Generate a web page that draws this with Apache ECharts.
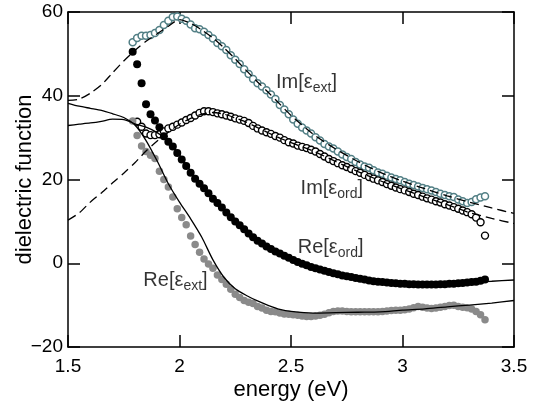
<!DOCTYPE html>
<html>
<head>
<meta charset="utf-8">
<script src="https://cdn.jsdelivr.net/npm/echarts@6/dist/echarts.min.js"></script>
<style>
html, body { margin: 0; padding: 0; background: #fff; }
#chart { width: 536px; height: 403px; background: #fff; }
</style>
</head>
<body>
<div id="chart"></div>
<script>
// Axis ticks
const xTicks = [1.5, 2, 2.5, 3, 3.5];
const yTicks = [-20, 0, 20, 40, 60];

// Measured photon energies (eV)
const energy = [
  1.79,1.81,1.83,1.85,1.87,1.89,1.91,1.93,1.95,1.97,
  1.99,2.01,2.03,2.05,2.07,2.09,2.11,2.13,2.15,2.17,
  2.19,2.21,2.23,2.25,2.27,2.29,2.31,2.33,2.35,2.37,
  2.39,2.41,2.43,2.45,2.47,2.49,2.51,2.53,2.55,2.57,
  2.59,2.61,2.63,2.65,2.67,2.69,2.71,2.73,2.75,2.77,
  2.79,2.81,2.83,2.85,2.87,2.89,2.91,2.93,2.95,2.97,
  2.99,3.01,3.03,3.05,3.07,3.09,3.11,3.13,3.15,3.17,
  3.19,3.21,3.23,3.25,3.27,3.29,3.31,3.33,3.35,3.37
];
// Im[eps_ext], measured
const imExt = [
  52.8,53.8,54.3,54.3,54.5,55.0,55.7,56.9,57.9,58.8,
  58.9,58.4,57.9,57.0,56.1,55.9,55.3,54.5,53.7,52.6,
  51.8,50.9,49.7,48.6,47.6,46.3,45.2,44.0,43.0,42.2,
  41.3,40.3,39.2,37.8,36.7,35.6,34.3,33.3,32.4,31.7,
  31.0,30.1,29.3,28.5,27.9,27.4,26.7,26.0,25.4,24.9,
  24.2,23.6,23.1,22.8,22.2,21.7,21.4,20.9,20.5,20.1,
  19.8,19.4,19.0,18.7,18.3,18.0,17.7,17.4,17.0,16.6,
  16.3,16.0,15.8,15.2,14.8,14.4,14.6,15.3,15.7,16.0
];
// Im[eps_ord], measured
const imOrd = [
  null,33.8,32.6,31.0,30.6,30.6,30.8,31.5,32.2,32.6,
  33.1,33.6,34.2,34.7,35.3,35.9,36.3,36.3,36.1,35.8,
  35.6,35.3,35.0,34.6,34.3,34.0,33.5,32.8,32.2,31.7,
  31.3,30.9,30.4,30.0,29.4,28.9,28.6,28.1,27.8,27.5,
  27.1,26.7,26.1,25.5,24.9,24.4,23.9,23.4,23.0,22.5,
  22.0,21.6,21.1,20.6,20.2,19.8,19.4,18.9,18.5,18.1,
  17.7,17.4,17.0,16.6,16.3,15.9,15.5,15.2,14.8,14.5,
  14.1,13.8,13.4,13.0,12.6,12.2,11.7,10.9,9.8,6.6
];
// Re[eps_ord], measured
const reOrd = [
  50.5,47.5,43.0,38.0,35.6,34.1,32.5,30.3,29.0,27.9,
  26.3,24.8,23.2,21.6,20.2,19.0,17.9,16.7,15.4,14.4,
  13.3,12.1,11.0,10.0,9.1,8.1,7.1,6.2,5.4,4.7,
  4.0,3.4,2.8,2.3,1.8,1.3,0.8,0.3,-0.1,-0.5,
  -0.9,-1.2,-1.5,-1.8,-2.1,-2.4,-2.6,-2.9,-3.1,-3.3,
  -3.5,-3.7,-3.9,-4.1,-4.3,-4.4,-4.5,-4.6,-4.7,-4.8,
  -4.9,-4.9,-5.0,-5.0,-5.1,-5.1,-5.1,-5.1,-5.1,-5.0,
  -5.0,-4.9,-4.9,-4.8,-4.7,-4.6,-4.5,-4.4,-4.2,-3.9
];
// Re[eps_ext], measured
const reExt = [
  34.0,30.5,28.0,26.7,25.8,25.0,22.0,20.0,18.2,15.8,
  13.0,10.9,9.2,6.5,4.5,2.6,1.0,-0.2,-1.2,-2.8,
  -3.9,-5.0,-6.2,-7.4,-8.2,-8.9,-9.3,-9.6,-10.3,-10.7,
  -11.2,-11.5,-11.6,-11.9,-12.1,-12.2,-12.3,-12.4,-12.6,-12.7,
  -12.7,-12.6,-12.4,-12.2,-11.8,-11.5,-11.4,-11.4,-11.5,-11.6,
  -11.6,-11.6,-11.6,-11.6,-11.6,-11.6,-11.5,-11.4,-11.3,-11.2,
  -11.2,-11.1,-10.9,-10.6,-10.3,-10.5,-10.7,-10.8,-10.7,-10.5,
  -10.3,-10.1,-10.0,-10.3,-10.5,-10.6,-10.9,-11.5,-12.3,-13.5
];

// Model curves
const modelEnergy = [
  1.50,1.55,1.60,1.65,1.70,1.75,1.80,1.85,1.90,1.95,
  2.00,2.05,2.10,2.15,2.20,2.25,2.30,2.35,2.40,2.45,
  2.50,2.60,2.70,2.80,2.90,3.00,3.10,3.20,3.30,3.40,3.50
];
const modelImExt = [
  38.9,39.2,40.6,42.6,45.5,48.3,50.8,53.0,54.8,56.6,
  58.2,57.3,55.7,53.8,51.4,48.8,46.0,43.3,40.7,38.0,
  35.3,30.8,27.3,24.3,21.7,19.6,17.8,16.1,14.6,13.2,11.9
];
const modelImOrd = [
  10.3,12.0,14.6,16.8,19.2,21.5,24.0,26.8,29.2,31.3,
  33.2,34.6,35.6,36.0,35.6,34.7,33.7,32.4,31.1,29.9,
  28.8,26.8,24.3,21.9,19.7,17.7,15.8,14.0,12.1,10.7,9.5
];
const modelReExt = [
  38.2,37.5,37.0,36.5,35.7,34.8,33.0,29.3,24.4,19.0,
  14.6,10.6,6.2,0.8,-3.4,-6.1,-7.7,-9.0,-10.1,-11.0,
  -11.5,-11.9,-11.8,-11.7,-11.6,-11.2,-10.9,-10.4,-10.0,-9.5,-8.9
];
const modelReOrd = [
  32.9,33.2,33.5,33.9,34.4,34.3,33.3,32.5,31.2,29.2,
  25.9,22.0,18.4,15.4,12.8,10.2,7.7,5.5,3.7,2.2,
  0.8,-1.2,-2.6,-3.6,-4.3,-4.7,-4.8,-4.7,-4.5,-4.3,-4.0
];

// Curve labels: [base, subscript]
const curveLabels = [
  ['Im', 'ext'],
  ['Im', 'ord'],
  ['Re', 'ord'],
  ['Re', 'ext']
];

const FONT = '"Liberation Sans", Arial, Helvetica, sans-serif';
const X_MIN = xTicks[0], X_MAX = xTicks[xTicks.length - 1];
const Y_MIN = yTicks[0], Y_MAX = yTicks[yTicks.length - 1];
const GRID_BOX = { left: 68, right: 22, top: 12, bottom: 56 };

function pairs(xs, ys) {
  return xs.map((x, i) => [x, ys[i]]);
}

function modelLine(ys, dashed) {
  return {
    type: 'line',
    data: pairs(modelEnergy, ys),
    showSymbol: false,
    smooth: 0.25,
    silent: true,
    lineStyle: { color: '#000', width: 1.3, type: dashed ? [9, 5] : 'solid' }
  };
}

function markers(ys, itemStyle, size) {
  return {
    type: 'scatter',
    data: pairs(energy, ys).filter(p => p[1] !== null),
    symbol: 'circle',
    symbolSize: size,
    silent: true,
    itemStyle: Object.assign({ opacity: 1 }, itemStyle)
  };
}

function textLabel(parts, at) {
  return {
    type: 'scatter',
    data: [at],
    symbolSize: 0,
    silent: true,
    label: {
      show: true,
      position: 'right',
      distance: 0,
      color: '#000',
      formatter: '{m|' + parts[0] + '[\u03b5}{s|' + parts[1] + '}{m|]}',
      rich: {
        m: { fontFamily: FONT, fontSize: 20, color: '#000' },
        s: { fontFamily: FONT, fontSize: 14, color: '#000', padding: [11, 0, 0, 0] }
      }
    }
  };
}

function frameLine() {
  return { show: true, onZero: false, lineStyle: { color: '#000', width: 1.5 } };
}
function frameTick() {
  return { show: true, inside: true, length: 12, lineStyle: { color: '#000', width: 1.5 } };
}

const chart = echarts.init(document.getElementById('chart'));
chart.setOption({
  animation: false,
  // grid 0 carries the data and the bottom/left scales; grid 1 shares the
  // same box and carries the mirrored top/right scales
  grid: [
    Object.assign({ outerBoundsMode: 'none' }, GRID_BOX),
    Object.assign({ outerBoundsMode: 'none' }, GRID_BOX)
  ],
  xAxis: [
    {
      gridIndex: 0, type: 'value', min: X_MIN, max: X_MAX, interval: 0.5,
      name: 'energy (eV)', nameLocation: 'middle', nameGap: 32, nameMoveOverlap: false,
      nameTextStyle: { fontFamily: FONT, fontSize: 22, color: '#000' },
      axisLine: frameLine(),
      axisTick: frameTick(),
      axisLabel: { fontFamily: FONT, fontSize: 19, color: '#000', margin: 10 },
      splitLine: { show: false }
    },
    {
      gridIndex: 1, type: 'value', min: X_MIN, max: X_MAX, interval: 0.5, position: 'top',
      axisLine: frameLine(),
      axisTick: frameTick(),
      axisLabel: { show: false },
      splitLine: { show: false }
    }
  ],
  yAxis: [
    {
      gridIndex: 0, type: 'value', min: Y_MIN, max: Y_MAX, interval: 20,
      name: 'dielectric function', nameLocation: 'middle', nameGap: 32, nameMoveOverlap: false,
      nameTextStyle: { fontFamily: FONT, fontSize: 22, color: '#000' },
      axisLine: frameLine(),
      axisTick: frameTick(),
      axisLabel: {
        fontFamily: FONT, fontSize: 19, color: '#000', margin: 5,
        formatter: v => (v < 0 ? '\u2212' + Math.abs(v) : String(v))
      },
      splitLine: { show: false }
    },
    {
      gridIndex: 1, type: 'value', min: Y_MIN, max: Y_MAX, interval: 20, position: 'right',
      axisLine: frameLine(),
      axisTick: frameTick(),
      axisLabel: { show: false },
      splitLine: { show: false }
    }
  ],
  series: [
    modelLine(modelImExt, true),
    modelLine(modelImOrd, true),
    markers(imExt, { color: '#fff', borderColor: '#527f85', borderWidth: 1.5 }, 7),
    markers(imOrd, { color: '#fff', borderColor: '#000', borderWidth: 1.4 }, 7),
    markers(reExt, { color: '#8a8a8a' }, 7.5),
    modelLine(modelReExt, false),
    modelLine(modelReOrd, false),
    markers(reOrd, { color: '#000' }, 8),
    textLabel(curveLabels[0], [2.433, 43.1]),
    textLabel(curveLabels[1], [2.543, 17.9]),
    textLabel(curveLabels[2], [2.530, 3.8]),
    textLabel(curveLabels[3], [1.838, -4.2])
  ]
});
</script>
</body>
</html>
